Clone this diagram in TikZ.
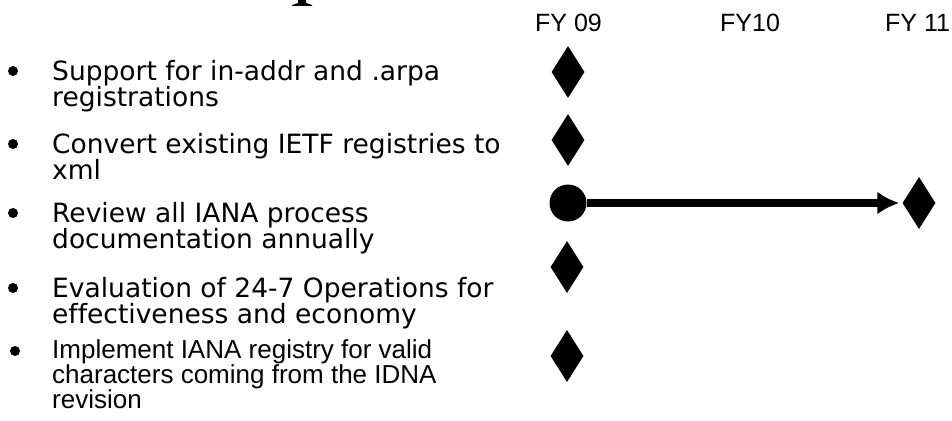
\documentclass[tikz,border=0pt]{standalone}
\usepackage{fontspec}
\setmainfont{DejaVu Sans}[Ligatures=NoCommon]
\newfontfamily\arialfont{Liberation Sans}[Ligatures=NoCommon]
\usetikzlibrary{shapes.geometric,arrows.meta,positioning}

\begin{document}
\begin{tikzpicture}[x=1pt,y=-1pt, every node/.style={inner sep=0pt},
  task/.style={anchor=base west,align=left,font=\fontsize{26.5}{26}\selectfont},
  smalltask/.style={task,font=\arialfont\fontsize{26}{25}\selectfont},
  year/.style={anchor=base west,font=\arialfont\fontsize{25}{25}\selectfont},
  dot/.style={circle,fill=black,minimum size=10pt},
  milestone/.style={diamond,fill=black,minimum width=33pt,minimum height=52pt},
  start/.style={circle,fill=black,minimum size=37pt}]

\useasboundingbox (0,0) rectangle (952,420);

% what is left of the title
\fill (298,0) -- (306,0) -- (306,3) -- (312,5) -- (312,6) -- (292,6) -- (292,5) -- (298,3) -- cycle;

\node[year] (fy09) at (535,32) {FY 09};
\node[year] (fy10) at (720,32) {FY10};
\node[year] (fy11) at (885,32) {FY 11};

% base = last line
\node[task] (t1) at (52,106) {Support for in-addr and .arpa\\registrations};
\node[task] (t2) at (52,179) {Convert existing IETF registries to\\xml};
\node[task] (t3) at (52,248) {Review all IANA process\\documentation annually};
\node[task] (t4) at (52,323) {Evaluation of 24-7 Operations for\\effectiveness and economy};
\node[smalltask] (t5) at (52,408) {Implement IANA registry for valid\\characters coming from the IDNA\\revision};

\node[dot,xshift=-39pt,yshift=35pt] (b1) at (t1.base west) {};
\node[dot,xshift=-39pt,yshift=35pt] (b2) at (t2.base west) {};
\node[dot,xshift=-39pt,yshift=35pt] (b3) at (t3.base west) {};
\node[dot,xshift=-39pt,yshift=35pt] (b4) at (t4.base west) {};
\node[dot,xshift=-37pt,yshift=57pt] (b5) at (t5.base west) {};

\node[milestone] (m1) at (568,72) {};
\node[milestone] (m2) at (568,140) {};
\node[start] (s3) at (568,203) {};
\node[milestone] (e3) at (919,203) {};
\node[milestone] (m4) at (567,267) {};
\node[milestone] (m5) at (567,356) {};

\draw[line width=8pt,shorten >=3pt,-{Latex[length=22pt,width=23pt]}] (s3) -- (e3);

\end{tikzpicture}
\end{document}
